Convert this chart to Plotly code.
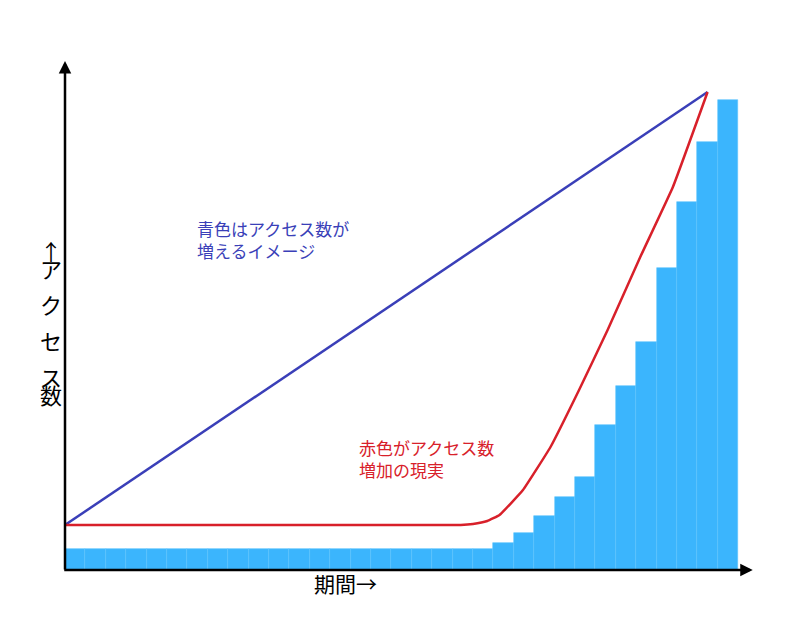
import plotly.graph_objects as go

# bar heights (in pixel-ish units), 33 periods
bar_heights = [21] * 21 + [27, 37, 54, 73, 93, 145, 184, 228, 302, 368, 428, 470]
bar_x = [i + 0.5 for i in range(len(bar_heights))]

blue_x = [0, 31.5]
blue_y = [45, 478]

red_x = [0, 10, 19.4, 20.0, 20.7, 21.3, 22.45, 23.8, 25.2, 26.6, 28.2, 29.8, 31.5]
red_y = [45, 45, 45, 46, 49, 55, 80, 123, 180, 240, 313, 383, 478]

ylabel_chars = ["↑", "ア", "ク", "セ", "ス", "数"]
ylabel_pos = [232, 268, 318, 364, 410]

fig = go.Figure()
fig.add_trace(go.Bar(x=bar_x, y=bar_heights, width=1, marker=dict(color="#3bb5fd", line=dict(color="#5cc3fd", width=0.6))))
fig.add_trace(go.Scatter(x=blue_x, y=blue_y, mode="lines", line=dict(color="#3a3fb8", width=2.5)))
fig.add_trace(go.Scatter(x=red_x, y=red_y, mode="lines", line=dict(color="#d8202a", width=2.5, shape="spline", smoothing=0.3)))

font = "Noto Sans CJK JP"
fig.update_layout(
    width=790, height=625, margin=dict(l=57, r=48, t=57, b=63),
    plot_bgcolor="white", paper_bgcolor="white", showlegend=False, bargap=0,
    xaxis=dict(range=[0, 33.58], visible=False, fixedrange=True),
    yaxis=dict(range=[0, 505], visible=False, fixedrange=True),
    font=dict(family=font),
)
# axes with arrows
fig.add_annotation(x=1.004, y=0, xref="paper", yref="paper", ax=-690, ay=0,
                   showarrow=True, arrowhead=2, arrowwidth=2.5, arrowcolor="black", text="")
fig.add_annotation(x=0, y=1.008, xref="paper", yref="paper", ax=0, ay=510,
                   showarrow=True, arrowhead=2, arrowwidth=2.5, arrowcolor="black", text="")
fig.add_annotation(x=0.19, y=0.705, xref="paper", yref="paper", xanchor="left", showarrow=False,
                   text="青色はアクセス数が<br>増えるイメージ", align="left",
                   font=dict(size=17, color="#3a3fb8", family=font))
fig.add_annotation(x=0.426, y=0.17, xref="paper", yref="paper", xanchor="left", showarrow=False,
                   text="赤色がアクセス数<br>増加の現実", align="left",
                   font=dict(size=17, color="#d8202a", family=font))
# vertical stacked y label: "↑" then katakana
fig.add_annotation(x=-0.04, y=(570 - 232) / 505, xref="paper", yref="paper", showarrow=False,
                   text=ylabel_chars[0], font=dict(size=22, color="black", family=font))
for ch, py in zip(ylabel_chars[1:], [268, 318, 364, 410, 410]):
    pass
for i, ch in enumerate(ylabel_chars[1:]):
    py = 268 + i * 36
    fig.add_annotation(x=-0.04, y=(570 - py) / 505, xref="paper", yref="paper", showarrow=False,
                       text=ch, font=dict(size=22, color="black", family=font))
fig.add_annotation(x=0.41, y=-0.06, xref="paper", yref="paper", showarrow=False,
                   text="期間→", font=dict(size=21, color="black", family=font))
fig.write_html("out.html")
